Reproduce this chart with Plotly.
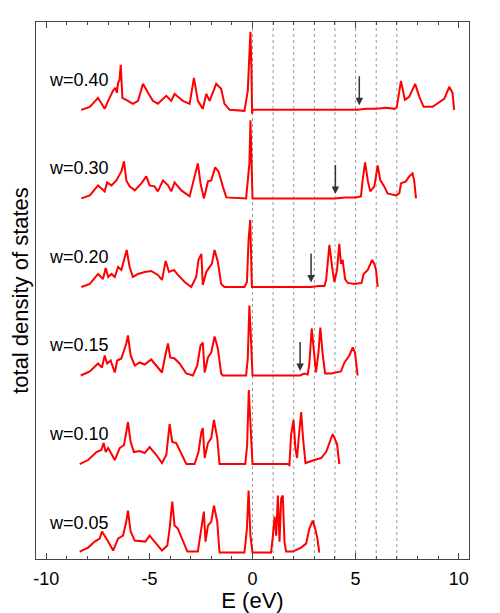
import plotly.graph_objects as go

# energies (eV) and DOS heights (arb. units)
e_040 = [-8.31, -7.89, -7.49, -7.17, -7.0, -6.9, -6.77, -6.65, -6.58, -6.52, -6.45, -6.39, -6.31, -6.04,
         -5.80, -5.55, -5.31, -5.07, -4.83, -4.59, -4.18, -3.94, -3.78, -3.38, -3.05, -2.84, -2.65,
         -2.41, -2.24, -2.08, -1.76, -1.52, -1.36, -1.11, -0.39, -0.23, -0.1, -0.05, -0.02, 0.0,
         5.1, 5.5, 6.0, 6.5, 6.9, 7.0, 7.2, 7.39, 7.6, 7.89, 8.09, 8.3, 8.73, 9.06, 9.3, 9.54, 9.7, 9.78]
dos_040 = [0, 3, 12, 1, 9, 13, 19, 22, 17, 27, 30, 45, 12, 9,
           6, 9, 26, 17, 9, 6, 14, 9, 16, 9, 6, 32, 9,
           1, 16, 9, 26, 21, 6, 0, -1, 19, 78, 40, -4, 0,
           0, 1, 1, 2, 1, 3, 29, 10, 13, 26, 13, 3, 3, 8, 11, 23, 17, 0]

e_030 = [-8.30, -7.89, -7.49, -7.17, -7.05, -6.84, -6.60, -6.36, -6.23, -6.12, -5.96, -5.71, -5.39,
         -5.15, -4.99, -4.75, -4.59, -4.34, -4.10, -3.94, -3.78, -3.45, -3.05, -2.84, -2.65, -2.52,
         -2.36, -2.16, -2.00, -1.81, -1.65, -1.44, -1.27, -0.31, -0.15, -0.1, -0.03, 0.0,
         4.0, 4.5, 5.0, 5.26, 5.34, 5.46, 5.59, 5.71, 5.91, 6.07, 6.20, 6.39, 6.55, 6.96, 7.12,
         7.20, 7.44, 7.60, 7.76, 7.84, 7.93]
dos_030 = [0, 3, 13, 7, 16, 13, 18, 27, 37, 18, 12, 8, 15,
           22, 13, 12, 7, 18, 13, 7, 16, 8, 2, 18, 35, 15,
           0, 17, 18, 31, 27, 12, 1, 0, 35, 78, 20, 0,
           0, 1, 1, 2, 18, 36, 18, 7, 12, 33, 18, 12, 5, 3, 5,
           15, 17, 22, 25, 18, 0]

e_020 = [-8.30, -7.89, -7.49, -7.25, -7.12, -7.00, -6.84, -6.68, -6.52, -6.36, -6.23, -6.10, -5.96,
         -5.80, -5.55, -5.23, -4.91, -4.59, -4.39, -4.21, -4.05, -3.81, -3.62, -3.29, -2.97, -2.73,
         -2.62, -2.48, -2.41, -2.24, -2.08, -1.97, -1.84, -1.68, -1.52, -1.36, -0.39, -0.27, -0.19,
         -0.11, -0.03, 0.0, 2.84, 3.2, 3.49, 3.57, 3.73, 3.86, 3.97, 4.10, 4.21, 4.29, 4.37, 4.49,
         4.62, 4.94, 5.29, 5.39, 5.59, 5.80, 5.91, 5.99, 6.07]
dos_020 = [0, 3, 13, 8, 19, 10, 13, 10, 20, 17, 27, 37, 20,
           10, 13, 15, 16, 12, 7, 26, 15, 17, 12, 5, 0, 10,
           27, 33, 2, 15, 20, 23, 37, 25, 3, 0, 0, 5, 47,
           67, 0, 0, 0, 1, 1, 7, 42, 20, 5, 17, 43, 23, 27, 8,
           4, 3, 4, 13, 17, 27, 23, 17, 0]

e_015 = [-8.33, -7.89, -7.49, -7.30, -7.17, -7.05, -6.88, -6.68, -6.56, -6.36, -6.12, -6.04, -5.91,
         -5.71, -5.47, -5.23, -4.91, -4.59, -4.39, -4.23, -4.10, -3.99, -3.78, -3.54, -3.21, -2.89,
         -2.68, -2.52, -2.41, -2.32, -2.16, -2.00, -1.84, -1.68, -1.52, -1.44, -0.31, -0.23, -0.15,
         -0.06, 0.0, 2.31, 2.5, 2.68, 2.76, 2.87, 2.97, 3.08, 3.20, 3.29, 3.41, 3.52, 3.81, 4.29,
         4.46, 4.70, 4.86, 4.97, 5.10]
dos_015 = [0, 4, 12, 8, 20, 12, 15, 3, 15, 17, 32, 40, 20,
           10, 13, 11, 16, 8, 3, 20, 32, 18, 17, 12, 2, 0,
           10, 30, 33, 3, 18, 23, 39, 27, 2, 0, 0, 17, 70,
           30, 0, 0, 2, 1, 12, 47, 23, 3, 23, 48, 20, 2, 2, 4,
           13, 20, 28, 23, 0]

e_010 = [-8.38, -7.97, -7.57, -7.33, -7.22, -7.12, -7.00, -6.68, -6.44, -6.23, -6.12, -6.04, -5.91,
         -5.75, -5.47, -5.23, -4.99, -4.66, -4.39, -4.18, -4.02, -3.89, -3.70, -3.45, -3.21, -2.81,
         -2.62, -2.48, -2.41, -2.32, -2.16, -2.00, -1.87, -1.71, -1.60, -0.35, -0.26, -0.18, -0.10,
         0.0, 1.71, 1.79, 1.87, 1.99, 2.08, 2.16, 2.24, 2.36, 2.45, 2.57, 3.00, 3.33, 3.57, 3.81,
         3.89, 4.10, 4.21]
dos_010 = [0, 4, 12, 14, 21, 12, 16, 4, 16, 19, 32, 42, 22,
           12, 13, 11, 17, 9, 1, 9, 40, 22, 21, 11, 0, 0,
           12, 32, 36, 6, 21, 26, 44, 26, 0, 0, 19, 74, 39,
           0, 0, -1, 29, 44, 16, 6, 26, 52, 26, 1, 4, 6, 12, 26,
           30, 20, 0]

e_005 = [-8.38, -7.97, -7.65, -7.41, -7.30, -7.17, -7.00, -6.76, -6.52, -6.28, -6.12, -6.04, -5.91,
         -5.71, -5.39, -5.20, -4.99, -4.66, -4.39, -4.13, -4.02, -3.89, -3.78, -3.62, -3.38, -3.16,
         -2.65, -2.48, -2.36, -2.28, -2.16, -2.00, -1.87, -1.71, -1.60, -0.39, -0.27, -0.19, -0.10,
         0.0, 0.90, 0.99, 1.07, 1.15, 1.23, 1.31, 1.39, 1.47, 1.55, 1.63, 1.95, 2.36, 2.60, 2.76,
         2.92, 3.04, 3.15, 3.24]
dos_005 = [1, 5, 11, 14, 21, 16, 11, 2, 14, 17, 31, 42, 21,
           12, 11, 11, 17, 9, 2, 7, 24, 51, 27, 24, 11, 1,
           1, 24, 41, 11, 27, 31, 47, 31, 0, 0, 24, 62, 17,
           0, 0, 17, 36, 17, 57, 11, 54, 57, 11, 1, 1, 5, 9, 24,
           32, 24, 14, 0]

labels = ["w=0.40", "w=0.30", "w=0.20", "w=0.15", "w=0.10", "w=0.05"]
energies = [e_040, e_030, e_020, e_015, e_010, e_005]
dos = [dos_040, dos_030, dos_020, dos_015, dos_010, dos_005]
offsets = [442.5, 354, 265.5, 177, 88.5, 0]

# arrows marking the gap edge (w=0.40 .. 0.15)
arrow_e = [5.18, 4.02, 2.84, 2.31]

x_ticks = [-10, -5, 0, 5, 10]
x_ticktext = ["-10", "-5", "0", "5", "10"]

fig = go.Figure()

for x0 in range(0, 8):
    fig.add_vline(x=x0, line=dict(color="#999999", width=1, dash="dot"), layer="below")

for e, d, off in zip(energies, dos, offsets):
    fig.add_trace(go.Scatter(x=e, y=[v + off for v in d], mode="lines",
                             line=dict(color="#ff0000", width=2), showlegend=False,
                             hoverinfo="skip"))

for lab, off in zip(labels, offsets):
    fig.add_annotation(x=-9.97, y=off + 30, text=lab, showarrow=False,
                       xanchor="left", yanchor="middle", font=dict(size=18, color="black"))

for xa, off in zip(arrow_e, offsets):
    fig.add_annotation(x=xa, y=off + 4.5, ax=xa, ay=off + 35, axref="x", ayref="y",
                       text="", showarrow=True, arrowhead=2, arrowsize=1, arrowwidth=1.5,
                       arrowcolor="#333333")

# page body has an 8px default margin, so the figure is 8px smaller than the window
fig.update_layout(
    width=492, height=605,
    margin=dict(l=28, r=31, t=14, b=54),
    paper_bgcolor="white", plot_bgcolor="white",
    font=dict(family="Liberation Sans", size=18, color="black"),
    xaxis=dict(range=[-10.5, 10.5], tickvals=x_ticks, ticktext=x_ticktext, ticks="inside",
               ticklen=6, tickcolor="#444", showline=True, linecolor="#444", linewidth=1,
               mirror="ticks", showgrid=False, zeroline=False, automargin=False,
               ticklabelstandoff=3,
               minor=dict(dtick=1, ticks="inside", ticklen=3, tickcolor="#444", showgrid=False),
               title=dict(text="E (eV)", standoff=9)),
    yaxis=dict(range=[-6.4, 530.3], showticklabels=False, ticks="", showline=True,
               linecolor="#444", linewidth=1, mirror=True, showgrid=False, zeroline=False,
               automargin=False,
               title=dict(text="total density of states", standoff=6, font=dict(size=22))),
)

fig.write_html("out.html")
